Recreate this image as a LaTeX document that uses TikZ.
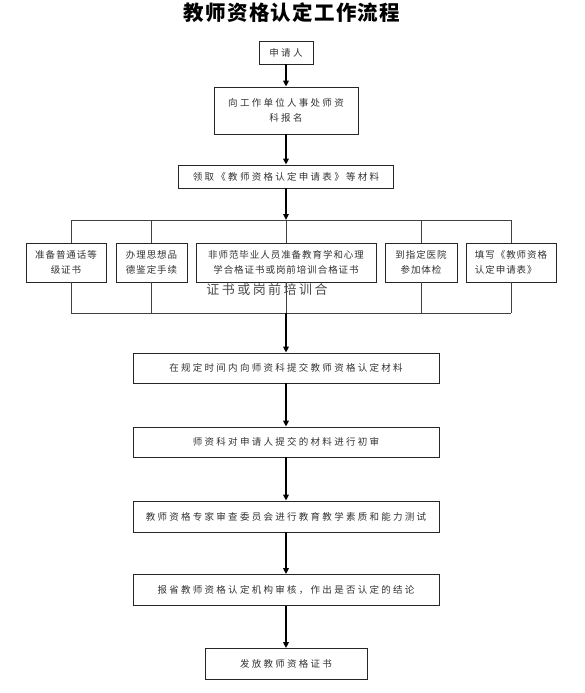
\documentclass[tikz,border=0pt]{standalone}
\usepackage{fontspec}
\usepackage{tikz}
\usetikzlibrary{arrows.meta}
\newfontfamily\titlefont[LetterSpace=6]{Noto Sans CJK SC}
\newfontfamily\boxfont[LetterSpace=24]{Noto Sans CJK SC}
\newfontfamily\itemfont[LetterSpace=10]{Noto Sans CJK SC}
\newfontfamily\strayfont[LetterSpace=19]{Noto Sans CJK SC}

\begin{document}
\begin{tikzpicture}[x=1pt, y=-1pt,
  box/.style={rectangle, draw=black!85, line width=0.8pt, fill=white, align=center,
              inner sep=0pt, text=black!80, font=\boxfont\fontsize{9.5}{15}\selectfont},
  item/.style={box, minimum height=39pt, font=\itemfont\fontsize{9.5}{15}\selectfont},
  flow/.style={-{Triangle[length=6pt,width=5.5pt]}, line width=1.6pt},
  link/.style={line width=0.8pt, draw=black!75}]
  \useasboundingbox[fill=white] (0,0) rectangle (584,693);
  \node[font=\titlefont\fontsize{20.5}{20.5}\selectfont\bfseries] (title) at (292,13)
       {教师资格认定工作流程};
  % upper part
  \node[box, minimum width=54pt, minimum height=23pt] (apply) at (286,52.5) {申请人};
  \node[box, minimum width=144pt, minimum height=47pt] (sign) at (286,110.5)
       {向工作单位人事处师资\\科报名};
  \node[box, minimum width=215pt, minimum height=23pt] (form) at (286,176.5)
       {领取《教师资格认定申请表》等材料};
  % materials
  \node[item, minimum width=80pt] (b1) at (66,262.5) {准备普通话等\\级证书};
  \node[item, minimum width=71pt] (b2) at (151.5,262.5) {办理思想品\\德鉴定手续};
  \node[item, minimum width=180pt] (b3) at (286,262.5)
       {非师范毕业人员准备教育学和心理\\学合格证书或岗前培训合格证书};
  \node[item, minimum width=72pt] (b4) at (421,262.5) {到指定医院\\参加体检};
  \node[item, minimum width=90pt, align=left] (b5) at (511,262.5) {填写《教师资格\\认定申请表》};
  \node[font=\strayfont\fontsize{13}{13}\selectfont, text=black!70] (stray) at (267,290)
       {证书或岗前培训合};
  % lower part
  \node[box, minimum width=306pt, minimum height=30pt] (submit) at (286,368)
       {在规定时间内向师资科提交教师资格认定材料};
  \node[box, minimum width=306pt, minimum height=30pt] (review) at (286,442)
       {师资科对申请人提交的材料进行初审};
  \node[box, minimum width=306pt, minimum height=31pt] (test) at (286,516.5)
       {教师资格专家审查委员会进行教育教学素质和能力测试};
  \node[box, minimum width=306pt, minimum height=31pt] (verify) at (286,590)
       {报省教师资格认定机构审核，作出是否认定的结论};
  \node[box, minimum width=162pt, minimum height=31pt] (issue) at (286,664)
       {发放教师资格证书};
  % buses
  \coordinate (busL) at (71,220);
  \coordinate (busR) at (511,220);
  \coordinate (joinL) at (71,313);
  \coordinate (joinR) at (511,313);
  \coordinate (split) at (286,220);
  \coordinate (merge) at (286,313);
  \draw[link] (busL) -- (busR);
  \draw[link] (joinL) -- (joinR);
  \draw[link] (b1.north -| busL) -- (busL);
  \draw[link] (b1.south -| joinL) -- (joinL);
  \foreach \b in {b2,b3,b4,b5} {
    \draw[link] (\b.north) -- (\b.north |- busL);
    \draw[link] (\b.south) -- (\b.south |- joinL);
  }
  % arrows
  \draw[flow] (apply) -- (sign);
  \draw[flow] (sign) -- (form);
  \draw[flow] (form) -- (split);
  \draw[flow] (merge) -- (submit);
  \draw[flow] (submit) -- (review);
  \draw[flow] (review) -- (test);
  \draw[flow] (test) -- (verify);
  \draw[flow] (verify) -- (issue);
\end{tikzpicture}
\end{document}
